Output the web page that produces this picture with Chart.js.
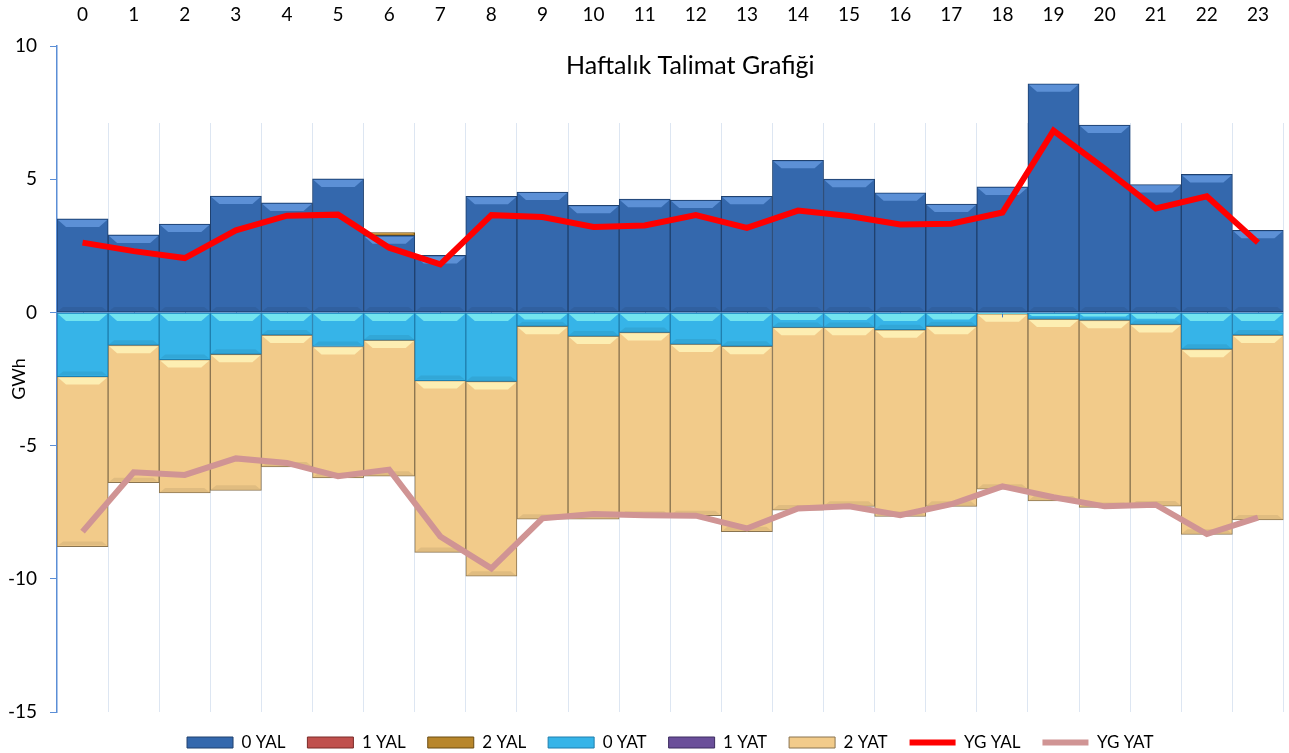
<!DOCTYPE html>
<html>
<head>
<meta charset="utf-8">
<script src="https://cdn.jsdelivr.net/npm/chart.js@4.4.1/dist/chart.umd.min.js"></script>
<style>
  html, body { margin: 0; padding: 0; background: #fff; }
  #wrap { width: 1289px; height: 753px; position: relative; }
</style>
</head>
<body>
<div id="wrap"><canvas id="chart"></canvas></div>
<script>
let hours = ["0","1","2","3","4","5","6","7","8","9","10","11","12","13","14","15","16","17","18","19","20","21","22","23"];

// GWh
let yal0 = [3.51, 2.91, 3.32, 4.37, 4.11, 5.01, 2.88, 2.14, 4.36, 4.52, 4.02, 4.25, 4.22, 4.36, 5.71, 5.00, 4.49, 4.07, 4.71, 8.58, 7.03, 4.80, 5.18, 3.08];
let yal1 = [0,0,0,0,0,0,0,0,0,0,0,0,0,0,0,0,0,0,0,0,0,0,0,0];
let yal2 = [0,0,0,0,0,0,0.12,0,0,0,0,0,0,0,0,0,0,0,0,0,0,0,0,0];
let yat0 = [-2.41, -1.23, -1.77, -1.57, -0.85, -1.28, -1.04, -2.56, -2.59, -0.52, -0.89, -0.75, -1.19, -1.27, -0.56, -0.56, -0.65, -0.52, -0.05, -0.25, -0.29, -0.45, -1.38, -0.85];
let yat1 = [0,0,0,0,0,0,0,0,0,0,0,0,0,0,0,0,0,0,0,0,0,0,0,0];
let yat2 = [-6.38, -5.16, -5.01, -5.11, -4.95, -4.93, -5.11, -6.45, -7.31, -7.24, -6.87, -6.90, -6.44, -6.96, -6.86, -6.72, -7.01, -6.76, -6.59, -6.83, -7.03, -6.82, -6.95, -6.94];
let ygYal = [2.62, 2.30, 2.04, 3.08, 3.63, 3.67, 2.43, 1.80, 3.65, 3.58, 3.21, 3.26, 3.65, 3.17, 3.82, 3.62, 3.30, 3.33, 3.75, 6.82, 5.40, 3.90, 4.36, 2.62];
let ygYat = [-8.23, -6.00, -6.10, -5.48, -5.65, -6.15, -5.90, -8.41, -9.61, -7.73, -7.57, -7.61, -7.63, -8.11, -7.36, -7.28, -7.61, -7.20, -6.53, -6.94, -7.28, -7.22, -8.32, -7.70];

let yTicks = [10, 5, 0, -5, -10, -15];

let FONT = "Lato, 'Open Sans', sans-serif";

// light bevel on top of each bar segment
let bevelColors = ["#5c90d6", "#e88a8a", "#e0b060", "#72e4ef", "#a58ad0", "#fdeeb2"];

let bevelPlugin = {
    id: "bevel",
    afterDatasetDraw(chart, args) {
        let i = args.index;
        if (i > 5) return;
        let ctx = chart.ctx;
        args.meta.data.forEach((bar, j) => {
            let v = chart.data.datasets[i].data[j];
            if (!v) return;
            let top = Math.min(bar.y, bar.base);
            let bottom = Math.max(bar.y, bar.base);
            let left = bar.x - bar.width / 2;
            let right = bar.x + bar.width / 2;
            let b = Math.min(8, (bottom - top) / 2);
            ctx.save();
            ctx.fillStyle = bevelColors[i];
            ctx.beginPath();
            ctx.moveTo(left + 1, top + 1);
            ctx.lineTo(right - 1, top + 1);
            ctx.lineTo(right - 1 - b, top + b);
            ctx.lineTo(left + 1 + b, top + b);
            ctx.closePath();
            ctx.fill();
            let s = Math.min(5, (bottom - top) / 3);
            ctx.fillStyle = "rgba(0,0,0,0.07)";
            ctx.beginPath();
            ctx.moveTo(left + 1, bottom - 1);
            ctx.lineTo(right - 1, bottom - 1);
            ctx.lineTo(right - 1 - s, bottom - s);
            ctx.lineTo(left + 1 + s, bottom - s);
            ctx.closePath();
            ctx.fill();
            ctx.restore();
        });
        // small category ticks along the zero line, after the last bar set
        if (i === 5) {
            let xs = chart.scales.x;
            let y0 = chart.scales.y.getPixelForValue(0);
            ctx.save();
            ctx.strokeStyle = "#3d78c4";
            ctx.lineWidth = 1;
            hours.forEach((h, k) => {
                let px = Math.round(xs.getPixelForValue(k)) + 0.5;
                ctx.beginPath();
                ctx.moveTo(px, y0);
                ctx.lineTo(px, y0 + 5);
                ctx.stroke();
            });
            ctx.beginPath();
            ctx.moveTo(chart.chartArea.left, y0 + 0.5);
            ctx.lineTo(chart.chartArea.right, y0 + 0.5);
            ctx.stroke();
            ctx.restore();
        }
    }
};

let titlePlugin = {
    id: "innerTitle",
    beforeDatasetsDraw(chart) {
        let ctx = chart.ctx;
        let a = chart.chartArea;
        ctx.save();
        ctx.fillStyle = "#fff";
        ctx.fillRect(a.left + 1, a.top, a.right - a.left, 77);
        ctx.restore();
    },
    afterDraw(chart) {
        let ctx = chart.ctx;
        let a = chart.chartArea;
        ctx.save();
        ctx.font = "25px " + FONT;
        ctx.fillStyle = "#000";
        ctx.textAlign = "center";
        ctx.textBaseline = "middle";
        ctx.fillText("Haftalık Talimat Grafiği", (a.left + a.right) / 2 + 20, a.top + 20);
        ctx.restore();
    }
};

function barSet(label, data, bg, border) {
    return {
        type: "bar",
        label: label,
        data: data,
        backgroundColor: bg,
        borderColor: border,
        borderWidth: 1,
        borderSkipped: false,
        stack: "s",
        order: 2,
        pointStyle: "rect",
        categoryPercentage: 1.0,
        barPercentage: 1.0
    };
}

function lineSet(label, data, color, stack) {
    return {
        type: "line",
        label: label,
        data: data,
        borderColor: color,
        backgroundColor: color,
        borderWidth: 6,
        pointRadius: 0,
        pointStyle: "line",
        tension: 0,
        stack: stack,
        order: 1
    };
}

let chart = new Chart(document.getElementById("chart"), {
    data: {
        labels: hours,
        datasets: [
            barSet("0 YAL", yal0, "#3468ad", "#1f416f"),
            barSet("1 YAL", yal1, "#c0504d", "#7a2a28"),
            barSet("2 YAL", yal2, "#b8862b", "#6b4c12"),
            barSet("0 YAT", yat0, "#36b4e8", "#1f7fae"),
            barSet("1 YAT", yat1, "#6a4f9a", "#3d2c60"),
            barSet("2 YAT", yat2, "#f2cb8a", "#8a7450"),
            lineSet("YG YAL", ygYal, "#ff0000", "l1"),
            lineSet("YG YAT", ygYat, "#d09494", "l2")
        ]
    },
    options: {
        responsive: true,
        maintainAspectRatio: false,
        animation: false,
        layout: { padding: { top: 0, right: 2, bottom: -8, left: 0 } },
        plugins: {
            title: { display: false },
            tooltip: { enabled: false },
            legend: {
                position: "bottom",
                fullSize: false,
                labels: {
                    usePointStyle: true,
                    pointStyleWidth: 46,
                    boxHeight: 11,
                    padding: 22,
                    color: "#000",
                    font: { family: FONT, size: 17 },
                    sort: (a, b) => a.datasetIndex - b.datasetIndex
                }
            }
        },
        scales: {
            x: {
                position: "top",
                stacked: true,
                offset: true,
                border: { display: false },
                grid: { display: true, drawTicks: false, color: "#dde6f2", lineWidth: 1, offset: true },
                ticks: { color: "#000", font: { family: FONT, size: 19 }, padding: 20, maxRotation: 0 },
                afterFit(scale) { scale.height = 46; }
            },
            y: {
                stacked: true,
                min: -15,
                max: 10,
                afterBuildTicks(scale) { scale.ticks = yTicks.map(v => ({ value: v })); },
                border: { display: true, color: "#5b8ed6", width: 1.5 },
                grid: { display: true, drawOnChartArea: false, drawTicks: true, tickLength: 7, color: "#5b8ed6" },
                ticks: { color: "#000", font: { family: FONT, size: 19 }, padding: 13 },
                title: { display: true, text: "GWh", color: "#000", font: { family: FONT, size: 18 }, padding: { top: 8, bottom: 0 } },
                afterFit(scale) { scale.width = 57; }
            }
        }
    },
    plugins: [bevelPlugin, titlePlugin]
});
</script>
</body>
</html>
